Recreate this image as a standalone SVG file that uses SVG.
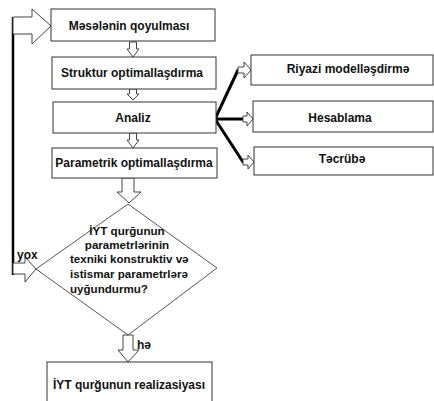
<svg xmlns="http://www.w3.org/2000/svg" width="434" height="401" viewBox="0 0 434 401">
<style>
.box{fill:#fff;stroke:#333;stroke-width:1}
.t{font-family:"Liberation Sans",Arial,sans-serif;font-weight:bold;font-size:12px;fill:#111}
.d{font-size:11.6px}
.c{text-anchor:middle}
.ba{fill:#fff;stroke:#444;stroke-width:1;stroke-linejoin:miter}
.fan{stroke:#000;stroke-width:3;fill:none;stroke-linecap:round}
.dia{fill:none;stroke:#555;stroke-width:1}
</style>
<rect width="434" height="401" fill="#fff"/>
<g id="connectors">
<line x1="13" y1="17" x2="13" y2="275" stroke="#000" stroke-width="2.5"/>
<polygon class="ba" points="13,17 32,17 32,9 51,26 32,44 32,34 13,34"/>
<polygon class="ba" points="13,263 25,263 25,257 36,269 25,282 25,274 13,274"/>
<polygon class="ba" points="129.5,42 136.5,42 136.5,49 139,49 133,57 127,49 129.5,49"/>
<polygon class="ba" points="129.5,89 136.5,89 136.5,94 139,94 133,100 127,94 129.5,94"/>
<polygon class="ba" points="129.5,133 136.5,133 136.5,140 139,140 133,148 127,140 129.5,140"/>
<polygon class="ba" points="122,178 134,178 134,192 141,192 129,203 117,192 122,192"/>
<polygon class="ba" points="123,335 133,335 133,350 139,350 128,362 118,350 123,350"/>
<line class="fan" x1="215" y1="119" x2="238" y2="70"/>
<line class="fan" x1="215" y1="119" x2="243" y2="119"/>
<line class="fan" x1="215" y1="119" x2="243" y2="162"/>
<polygon class="ba" points="238,67 244,67 244,62 251,70 244,78 244,73 238,73"/>
<polygon class="ba" points="243,116 247,116 247,112 253,119 247,126 247,122 243,122"/>
<polygon class="ba" points="243,159 248,159 248,155 254,162 248,169 248,165 243,165"/>
<text class="t" x="17" y="259" font-size="10.5">yox</text>
<text class="t" x="137" y="349" font-size="10.5">hə</text>
</g>
<g id="n1"><rect class="box" x="51" y="9" width="164" height="32"/><text class="t c" x="129" y="30">Məsələnin qoyulması</text></g>
<g id="n2"><rect class="box" x="52" y="57" width="164" height="32"/><text class="t c" x="132" y="77">Struktur optimallaşdırma</text></g>
<g id="n3"><rect class="box" x="53" y="102" width="163" height="31"/><text class="t c" x="133" y="122">Analiz</text></g>
<g id="n4"><rect class="box" x="52" y="148" width="165" height="30"/><text class="t c" x="134" y="167">Parametrik optimallaşdırma</text></g>
<g id="n5"><rect class="box" x="251" y="55" width="182" height="30"/><text class="t c" x="348" y="73">Riyazi modelləşdirmə</text></g>
<g id="n6"><rect class="box" x="253" y="101" width="180" height="31"/><text class="t c" x="340" y="122">Hesablama</text></g>
<g id="n7"><rect class="box" x="254" y="147" width="179" height="28"/><text class="t c" x="342" y="163">Təcrübə</text></g>
<g id="n8">
<polygon class="dia" points="128,204 217,268 128,335 36,269"/>
<text class="t d c" x="127" y="235">İYT qurğunun</text>
<text class="t d c" x="127" y="249">parametrlərinin</text>
<text class="t d" x="70" y="263">texniki konstruktiv və</text>
<text class="t d" x="70" y="278">istismar parametrlərə</text>
<text class="t d" x="70" y="293">uyğundurmu?</text>
</g>
<g id="n9"><rect class="box" x="47" y="362" width="165" height="45"/><text class="t" x="53" y="389">İYT qurğunun realizasiyası</text></g>
</svg>
